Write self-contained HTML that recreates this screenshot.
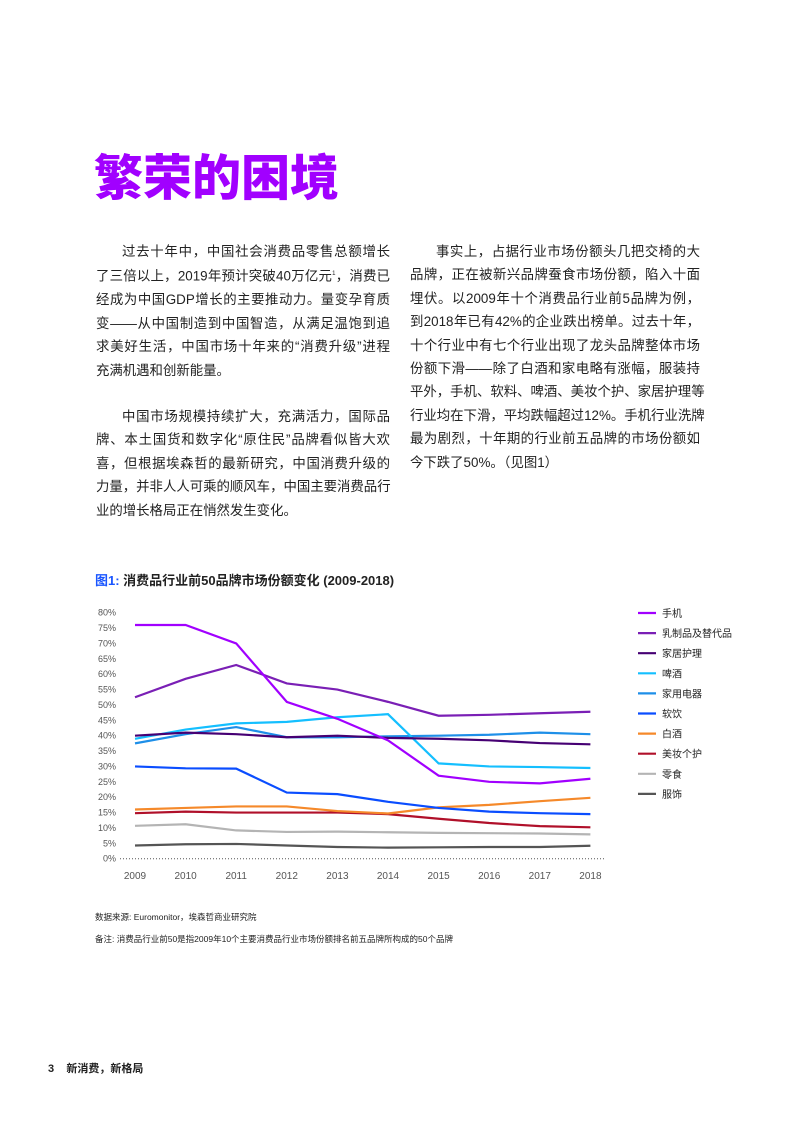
<!DOCTYPE html>
<html><head><meta charset="utf-8"><style>
body{margin:0;width:794px;height:1123px;background:#fff;position:relative;font-family:"Liberation Sans","Noto Sans CJK SC",sans-serif;color:#222;overflow:hidden}
.t{position:absolute;left:94px;top:139px;font-size:49px;font-weight:900;color:#a100ff;font-family:"Noto Sans CJK SC",sans-serif}
.col{position:absolute;font-size:13.4px;line-height:23.4px}
.col div{white-space:nowrap;text-align:justify;text-align-last:justify}
.col div.l{text-align-last:left}
.col div.i{padding-left:26px}
.ct{position:absolute;left:95px;top:570px;font-size:13px;font-weight:bold}
.note{position:absolute;left:95px;font-size:8.5px;color:#222}
</style></head><body>
<div class="t">繁荣的困境</div>
<div class="col" style="left:96px;top:240px;width:294px">
<div class="i">过去十年中，中国社会消费品零售总额增长</div>
<div>了三倍以上，2019年预计突破40万亿元<sup style="font-size:6px">1</sup>，消费已</div>
<div>经成为中国GDP增长的主要推动力。量变孕育质</div>
<div>变——从中国制造到中国智造，从满足温饱到追</div>
<div>求美好生活，中国市场十年来的“消费升级”进程</div>
<div class="l">充满机遇和创新能量。</div>
<div style="height:23px"></div>
<div class="i">中国市场规模持续扩大，充满活力，国际品</div>
<div>牌、本土国货和数字化“原住民”品牌看似皆大欢</div>
<div>喜，但根据埃森哲的最新研究，中国消费升级的</div>
<div>力量，并非人人可乘的顺风车，中国主要消费品行</div>
<div class="l">业的增长格局正在悄然发生变化。</div>
</div>
<div class="col" style="left:410px;top:240px;width:290px">
<div class="i">事实上，占据行业市场份额头几把交椅的大</div>
<div>品牌，正在被新兴品牌蚕食市场份额，陷入十面</div>
<div>埋伏。以2009年十个消费品行业前5品牌为例，</div>
<div>到2018年已有42%的企业跌出榜单。过去十年，</div>
<div>十个行业中有七个行业出现了龙头品牌整体市场</div>
<div>份额下滑——除了白酒和家电略有涨幅，服装持</div>
<div>平外，手机、软料、啤酒、美妆个护、家居护理等</div>
<div>行业均在下滑，平均跌幅超过12%。手机行业洗牌</div>
<div>最为剧烈，十年期的行业前五品牌的市场份额如</div>
<div class="l">今下跌了50%。（见图1）</div>
</div>
<div class="ct"><span style="color:#1a56ff">图1:</span> 消费品行业前50品牌市场份额变化 (2009-2018)</div>
<svg style="position:absolute;left:0;top:0" width="794" height="1123" font-family="Liberation Sans, Noto Sans CJK SC, sans-serif">
<g font-size="9" fill="#555" text-anchor="end" id="yl"></g>
<line x1="120" y1="858.7" x2="605" y2="858.7" stroke="#555" stroke-dasharray="1,2"/>
<g font-size="10" fill="#555" text-anchor="middle" id="xl"></g>
<g id="ser" fill="none" stroke-width="2.2"></g>
<g id="leg" font-size="10" fill="#222"></g>
</svg>
<div class="note" style="top:911px">数据来源: Euromonitor，埃森哲商业研究院</div>
<div class="note" style="top:933px">备注: 消费品行业前50是指2009年10个主要消费品行业市场份额排名前五品牌所构成的50个品牌</div>
<div style="position:absolute;left:48px;top:1060px;font-size:11px;font-weight:bold">3&nbsp;&nbsp;&nbsp;&nbsp;新消费，新格局</div>
<script>
var ns="http://www.w3.org/2000/svg";
function Y(v){return 858.7-v*3.075}
function X(i){return 135+i*50.6}
var yl=document.getElementById('yl');
for(var v=0;v<=80;v+=5){var t=document.createElementNS(ns,'text');t.setAttribute('x',116);t.setAttribute('y',Y(v)+3);t.textContent=v+'%';yl.appendChild(t);}
var xl=document.getElementById('xl');
for(var i=0;i<10;i++){var t=document.createElementNS(ns,'text');t.setAttribute('x',X(i));t.setAttribute('y',879);t.textContent=2009+i;xl.appendChild(t);}
var S=[
["手机","#a100ff",[76,76,70,51,45.5,38.5,27,25,24.5,26]],
["乳制品及替代品","#7a1fb5",[52.5,58.5,63,57,55,51,46.5,46.8,47.3,47.8]],
["家居护理","#460073",[40,41,40.5,39.5,40,39.3,39,38.5,37.6,37.2]],
["啤酒","#14bfff",[39,42,44,44.5,46,47,31,30,29.8,29.5]],
["家用电器","#1e8fe8",[37.5,40.5,42.8,39.5,39.5,39.8,40,40.3,41,40.5]],
["软饮","#0a4dff",[30,29.4,29.3,21.5,21,18.5,16.5,15.3,14.8,14.5]],
["白酒","#f5892a",[16,16.5,17,17,15.5,14.7,16.7,17.5,18.7,19.8]],
["美妆个护","#b0102a",[14.8,15.3,15,15,15,14.5,13,11.6,10.6,10.2]],
["零食","#b4b4b4",[10.7,11.2,9.2,8.7,8.8,8.6,8.4,8.3,8.2,7.9]],
["服饰","#555555",[4.3,4.7,4.8,4.3,3.8,3.6,3.7,3.8,3.8,4.2]]];
var g=document.getElementById('ser'),lg=document.getElementById('leg');
S.slice().reverse().forEach(function(s){var p=document.createElementNS(ns,'polyline');p.setAttribute('points',s[2].map(function(v,i){return X(i)+','+Y(v)}).join(' '));p.setAttribute('stroke',s[1]);g.appendChild(p);});
S.forEach(function(s,k){var y=613+k*20.1;var l=document.createElementNS(ns,'line');l.setAttribute('x1',638);l.setAttribute('x2',656);l.setAttribute('y1',y);l.setAttribute('y2',y);l.setAttribute('stroke',s[1]);l.setAttribute('stroke-width',2.2);lg.appendChild(l);var t=document.createElementNS(ns,'text');t.setAttribute('x',662);t.setAttribute('y',y+4);t.textContent=s[0];lg.appendChild(t);});
</script>
</body></html>
